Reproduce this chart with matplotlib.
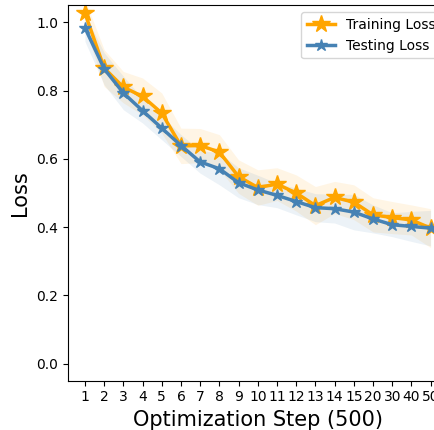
import matplotlib.pyplot as plt
import numpy as np

# Tick labels (optimization steps, x500)
steps = ['1', '2', '3', '4', '5', '6', '7', '8', '9', '10', '11', '12',
         '13', '14', '15', '20', '30', '40', '50']

train_loss = [1.027, 0.866, 0.810, 0.783, 0.734, 0.638, 0.639, 0.620, 0.548, 0.516,
              0.526, 0.500, 0.463, 0.487, 0.473, 0.436, 0.428, 0.421, 0.397]
test_loss = [0.984, 0.864, 0.793, 0.741, 0.690, 0.639, 0.591, 0.571, 0.530, 0.509,
             0.493, 0.475, 0.457, 0.454, 0.444, 0.424, 0.407, 0.402, 0.397]

# band half-widths read from the shaded areas
train_std = [0.040, 0.054, 0.046, 0.054, 0.059, 0.052, 0.050, 0.051, 0.049, 0.052,
             0.048, 0.053, 0.056, 0.047, 0.051, 0.050, 0.047, 0.044, 0.057]
test_std = [0.040, 0.047, 0.049, 0.036, 0.034, 0.032, 0.033, 0.047, 0.044, 0.043,
            0.036, 0.039, 0.041, 0.042, 0.052, 0.041, 0.035, 0.044, 0.052]

x = np.arange(len(steps))
train = np.array(train_loss)
test = np.array(test_loss)

fig = plt.figure(figsize=(4.35, 4.30), dpi=100)
ax = fig.add_axes([0.1556, 0.1147, 0.874, 0.873])

ax.plot(x, train, color='orange', marker='*', markersize=13, linewidth=2.5,
        label='Training Loss')
ax.fill_between(x, train - np.array(train_std), train + np.array(train_std),
                color='orange', alpha=0.1, linewidth=0)
ax.plot(x, test, color='steelblue', marker='*', markersize=9, linewidth=2.5,
        label='Testing Loss')
ax.fill_between(x, test - np.array(test_std), test + np.array(test_std),
                color='steelblue', alpha=0.1, linewidth=0)

ax.set_xticks(x)
ax.set_xticklabels(steps, fontsize=10)
ax.tick_params(axis='y', labelsize=10)
ax.set_xlim(-0.9, 18.9)
ax.set_ylim(-0.05, 1.05)
ax.set_yticks([0.0, 0.2, 0.4, 0.6, 0.8, 1.0])

ax.set_xlabel('Optimization Step (500)', fontsize=15)
ax.set_ylabel('Loss', fontsize=15)
ax.legend(loc='upper right', fontsize=10)

fig.savefig('out.png', dpi=100)
